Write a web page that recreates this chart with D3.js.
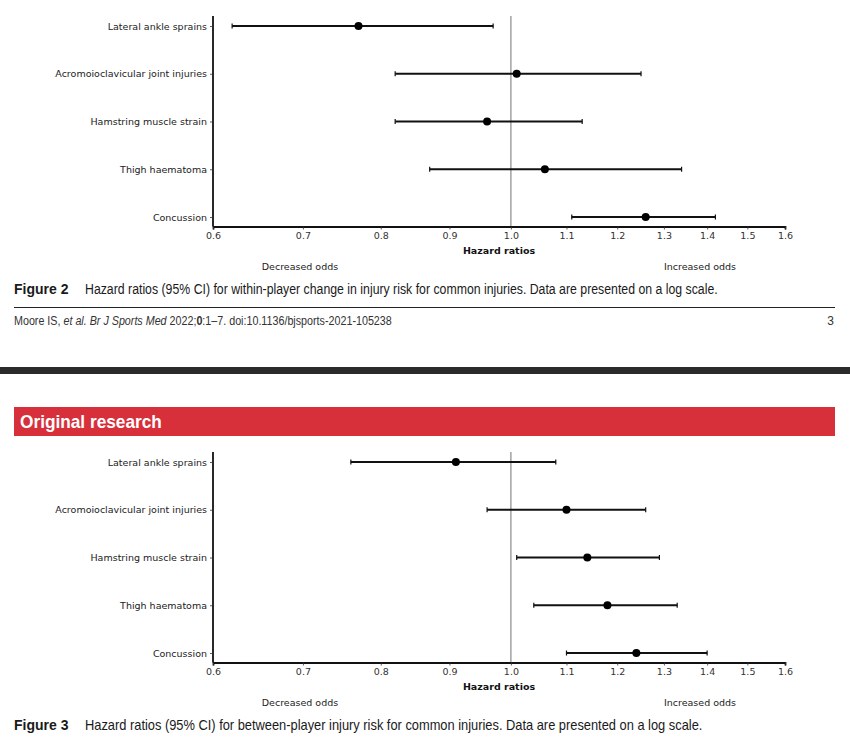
<!DOCTYPE html>
<html>
<head>
<meta charset="utf-8">
<script src="https://cdn.jsdelivr.net/npm/d3@7"></script>
<style>
  html, body { margin: 0; padding: 0; background: #fff; }
  svg { display: block; }
  .plotfont { font-family: "DejaVu Sans", sans-serif; }
  .narrow { font-family: "Liberation Sans Narrow", "Arial Narrow", "Liberation Sans", sans-serif; }
</style>
</head>
<body>
<svg id="chart" width="850" height="743"></svg>
<script>
// ---- Data ----
const categories = ["Lateral ankle sprains", "Acromoioclavicular joint injuries", "Hamstring muscle strain", "Thigh haematoma", "Concussion"];
const tickValues = [0.6, 0.7, 0.8, 0.9, 1.0, 1.1, 1.2, 1.3, 1.4, 1.5, 1.6];

const fig2HR    = [0.77, 1.01, 0.96, 1.06, 1.26];
const fig2Lower = [0.62, 0.82, 0.82, 0.87, 1.11];
const fig2Upper = [0.97, 1.25, 1.13, 1.34, 1.42];

const fig3HR    = [0.91, 1.10, 1.14, 1.18, 1.24];
const fig3Lower = [0.76, 0.96, 1.01, 1.04, 1.10];
const fig3Upper = [1.08, 1.26, 1.29, 1.33, 1.40];

const fig2Caption = "Hazard ratios (95% CI) for within-player change in injury risk for common injuries. Data are presented on a log scale.";
const fig3Caption = "Hazard ratios (95% CI) for between-player injury risk for common injuries. Data are presented on a log scale.";

const svg = d3.select("#chart");

const x = d3.scaleLog().domain([0.6, 1.6]).range([213, 785]);

// squeeze a text node horizontally so it fits a target width (condensed-font look)
function condense(sel, x0, targetWidth) {
  const w = sel.node().getComputedTextLength();
  const k = w > 0 ? targetWidth / w : 1;
  sel.attr("x", 0).attr("transform", `translate(${x0},0) scale(${k},1)`);
}

function drawPanel(top, hr, lo, hi) {
  const g = svg.append("g").attr("transform", `translate(0,${top})`).attr("class", "plotfont");
  const axisY = 210.5;
  const y = d3.scalePoint().domain(categories).range([10, 201]);
  const rows = categories.map((c, i) => ({ c, hr: hr[i], lo: lo[i], hi: hi[i] }));

  // reference line at 1.0
  g.append("line")
    .attr("x1", x(1.0)).attr("x2", x(1.0))
    .attr("y1", 0).attr("y2", axisY)
    .attr("stroke", "#8a8a8a").attr("stroke-width", 1.2);

  // x axis
  const xAxis = d3.axisBottom(x).tickValues(tickValues).tickFormat(d3.format(".1f")).tickSize(3).tickPadding(3);
  const gx = g.append("g").attr("transform", `translate(0,${axisY})`).call(xAxis);
  gx.select(".domain").attr("stroke", "#111").attr("stroke-width", 1.8);
  gx.selectAll(".tick line").attr("stroke", "#333").attr("stroke-width", 0.8);
  gx.selectAll(".tick text").attr("font-size", 9.5).attr("fill", "#333").attr("font-family", "DejaVu Sans, sans-serif");

  // y axis
  const yAxis = d3.axisLeft(y).tickSize(3).tickPadding(3);
  const gy = g.append("g").attr("transform", `translate(${x(0.6)},0)`).call(yAxis);
  gy.select(".domain").attr("d", `M0,0V${axisY}`).attr("stroke", "#111").attr("stroke-width", 1.8);
  gy.selectAll(".tick line").attr("stroke", "#333").attr("stroke-width", 0.8);
  gy.selectAll(".tick text").attr("font-size", 9.5).attr("fill", "#222").attr("font-family", "DejaVu Sans, sans-serif");

  // error bars
  const eb = g.append("g").selectAll("g").data(rows).join("g");
  eb.append("line")
    .attr("x1", d => x(d.lo)).attr("x2", d => x(d.hi))
    .attr("y1", d => y(d.c)).attr("y2", d => y(d.c))
    .attr("stroke", "#111").attr("stroke-width", 2);
  eb.append("line")
    .attr("x1", d => x(d.lo)).attr("x2", d => x(d.lo))
    .attr("y1", d => y(d.c) - 2.5).attr("y2", d => y(d.c) + 2.5)
    .attr("stroke", "#111").attr("stroke-width", 1.2);
  eb.append("line")
    .attr("x1", d => x(d.hi)).attr("x2", d => x(d.hi))
    .attr("y1", d => y(d.c) - 2.5).attr("y2", d => y(d.c) + 2.5)
    .attr("stroke", "#111").attr("stroke-width", 1.2);
  eb.append("circle")
    .attr("cx", d => x(d.hr)).attr("cy", d => y(d.c)).attr("r", 4)
    .attr("fill", "#000");

  // labels
  g.append("text").attr("x", (x(0.6) + x(1.6)) / 2).attr("y", axisY + 27.5)
    .attr("text-anchor", "middle").attr("font-size", 9.5).attr("font-weight", "bold").attr("fill", "#111")
    .text("Hazard ratios");
  g.append("text").attr("x", 300).attr("y", axisY + 43.5)
    .attr("text-anchor", "middle").attr("font-size", 9.5).attr("fill", "#222")
    .text("Decreased odds");
  g.append("text").attr("x", 700).attr("y", axisY + 43.5)
    .attr("text-anchor", "middle").attr("font-size", 9.5).attr("fill", "#222")
    .text("Increased odds");
}

function drawCaption(yBase, label, text, textWidth) {
  svg.append("text").attr("x", 14).attr("y", yBase).attr("fill", "#1a1a1a")
    .attr("font-family", "Liberation Sans, Arial, sans-serif").attr("font-weight", "bold").attr("font-size", 14)
    .text(label);
  const t = svg.append("text").attr("y", yBase).attr("fill", "#1a1a1a")
    .attr("class", "narrow").attr("font-size", 14.5).text(text);
  condense(t, 85, textWidth);
}

// Figure 2
drawPanel(16, fig2HR, fig2Lower, fig2Upper);
drawCaption(294, "Figure 2", fig2Caption, 633);

// footer
svg.append("line").attr("x1", 14).attr("x2", 835).attr("y1", 307.5).attr("y2", 307.5).attr("stroke", "#222").attr("stroke-width", 1);
const ft = svg.append("text").attr("y", 325).attr("font-size", 12).attr("fill", "#333").attr("class", "narrow");
ft.append("tspan").text("Moore IS, ");
ft.append("tspan").attr("font-style", "italic").text("et al. Br J Sports Med ");
ft.append("tspan").text("2022;");
ft.append("tspan").attr("font-weight", "bold").text("0");
ft.append("tspan").text(":1–7. doi:10.1136/bjsports-2021-105238");
condense(ft, 14, 378);
svg.append("text").attr("x", 834).attr("y", 325).attr("text-anchor", "end").attr("font-size", 12).attr("fill", "#333").attr("class", "narrow").text("3");

// dark page separator
svg.append("rect").attr("x", 0).attr("y", 367).attr("width", 850).attr("height", 7).attr("fill", "#2b2b2b");

// red header
svg.append("rect").attr("x", 14).attr("y", 407).attr("width", 821).attr("height", 29).attr("fill", "#d8303a");
const hdr = svg.append("text").attr("y", 428).attr("fill", "#fff").attr("font-size", 18.5).attr("font-weight", "bold")
  .attr("class", "narrow").text("Original research");
condense(hdr, 20, 142);

// Figure 3
drawPanel(452, fig3HR, fig3Lower, fig3Upper);
drawCaption(730, "Figure 3", fig3Caption, 618);
</script>
</body>
</html>
